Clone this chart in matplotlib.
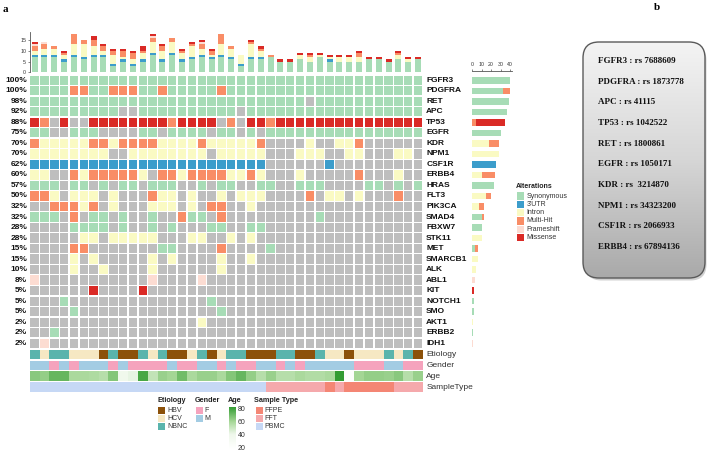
import matplotlib
matplotlib.use('Agg')
import matplotlib.pyplot as plt
import numpy as np
import matplotlib.transforms as mtrans
from matplotlib.patches import FancyBboxPatch, Rectangle
from matplotlib.colors import LinearSegmentedColormap, Normalize
from matplotlib.colorbar import ColorbarBase

plt.rcParams['font.family'] = ['Liberation Sans', 'DejaVu Sans']

# ---------------- data ----------------
genes = ['FGFR3', 'PDGFRA', 'RET', 'APC', 'TP53', 'EGFR', 'KDR', 'NPM1', 'CSF1R',
         'ERBB4', 'HRAS', 'FLT3', 'PIK3CA', 'SMAD4', 'FBXW7', 'STK11', 'MET',
         'SMARCB1', 'ALK', 'ABL1', 'KIT', 'NOTCH1', 'SMO', 'AKT1', 'ERBB2', 'IDH1']
pct_labels = ['100%', '100%', '98%', '92%', '88%', '75%', '70%', '70%', '62%', '60%',
              '57%', '50%', '32%', '32%', '28%', '28%', '15%', '15%', '10%', '8%',
              '5%', '5%', '5%', '2%', '2%', '2%']
# S=Synonymous U=3'UTR I=Intron M=Multi-Hit F=Frameshift X=Missense .=none
mutation_rows = [
    "SSSSSSSSSS" "SSSSSSSSSS" "SSSSSSSSSS" "SSSSSSSSSS",  # FGFR3
    "SSSSMMSSMM" "MSSMSSSSSM" "SSSSSSSSSS" "SSSSSSSSSS",  # PDGFRA
    "SSSSSSSSSS" "SSSSSSSSSS" "SSSSSSSS.S" "SSSSSSSSSS",  # RET
    "SSSSSSSSS." ".SSSSSSSSS" "S.SSSSSSSS" "SSSSSSSSSS",  # APC
    "XM.X..XXXX" "XXXXMXXXX." "M.XXMXXXXX" "XXXXXXXXXX",  # TP53
    "SS..SSS..." ".SS.SSSS.S" "S.S.SSSSSS" "SSSSSSSSSS",  # EGFR
    "MIIIIIMMIM" "MMMIIIIMII" "IIIM....I." ".IIM......",  # KDR
    "IIIIIIII.." "IIIIIIII.I" "IIII...III" "..II...II.",  # NPM1
    "UUUUUUUUUU" "UUUUUUUUUU" "UUUU......" "U.........",  # CSF1R
    "II..MIMMMM" "MI.MMIMMMM" "IIMI...I.." "...M...I..",  # ERBB4
    "SSS.SS.S.S" "S.SSS..S.S" "S..SS..SSS" "....SS.S.S",  # HRAS
    "MMI.III.I." "..MII.I..I" ".III....M." "II.I...M..",  # FLT3
    "..MMMIM.I." "..III.I.MM" "..I......." "..........",  # PIK3CA
    "SSS.M.SS.S" "..S..MSS.M" ".........S" "..........",  # SMAD4
    "....SSSS.S" "..S.S...SS" "..SS......" "..........",  # FBXW7
    ".....II.II" "III...II.." "I.I......." "..........",  # STK11
    "....MM...." "...SS....M" "....S....." "..........",  # MET
    "....I.I..." "..I.I....I" "..I......." "..........",  # SMARCB1
    "....I..I.." "..I......I" ".........." "..........",  # ALK
    "F........." "..F....F.." ".........." "..........",  # ABL1
    "......X..." ".X........" ".........." "..........",  # KIT
    "...S......" "........S." ".........." "..........",  # NOTCH1
    "....S....." ".........S" ".........." "..........",  # SMO
    ".........." ".......I.." ".........." "..........",  # AKT1
    "..S......." ".........." ".........." "..........",  # ERBB2
    ".F........" ".........." ".........." "..........",  # IDH1
]
alt_codes = ['S', 'U', 'I', 'M', 'F', 'X']
alt_names = ['Synonymous', "3'UTR", 'Intron', 'Multi-Hit', 'Frameshift', 'Missense']

etiology = ['NBNC', 'HCV', 'NBNC', 'NBNC', 'HCV', 'HCV', 'HCV', 'HBV', 'NBNC', 'HBV',
            'HBV', 'NBNC', 'HCV', 'NBNC', 'HBV', 'HBV', 'HCV', 'NBNC', 'HBV', 'HCV',
            'NBNC', 'NBNC', 'HBV', 'HBV', 'HBV', 'NBNC', 'NBNC', 'HBV', 'HBV', 'NBNC',
            'HCV', 'HCV', 'HBV', 'HCV', 'HCV', 'HCV', 'NBNC', 'HCV', 'NBNC', 'HBV']
gender = ['M', 'M', 'F', 'M', 'F', 'M', 'M', 'M', 'F', 'M',
          'F', 'F', 'F', 'F', 'M', 'F', 'F', 'M', 'M', 'F',
          'M', 'F', 'F', 'M', 'M', 'F', 'M', 'F', 'M', 'M',
          'M', 'M', 'M', 'F', 'F', 'F', 'M', 'M', 'F', 'F']
age = [65, 63, 72, 72, 58, 58, 57, 55, 66, 38,
       42, 78, 52, 62, 60, 70, 58, 62, 62, 58,
       66, 72, 63, 55, 62, 55, 55, 58, 56, 56,
       58, 82, 20, 60, 63, 63, 62, 65, 55, 62]
sample_type = ['PBMC'] * 24 + ['FFT'] * 6 + ['FFPE', 'FFT'] + ['FFPE'] * 5 + ['FFT'] * 3

snp_lines = ['FGFR3 : rs 7688609', 'PDGFRA : rs 1873778', 'APC : rs 41115',
             'TP53 : rs 1042522', 'RET : rs 1800861', 'EGFR : rs 1050171',
             'KDR : rs  3214870', 'NPM1 : rs 34323200', 'CSF1R : rs 2066933',
             'ERBB4 : rs 67894136']

# ---------------- styles ----------------
alt_colors = {'S': '#A7DCB6', 'U': '#3C9DCB', 'I': '#FAFAC3', 'M': '#F98D66',
              'F': '#FCDCD2', 'X': '#DA2A26', '.': '#BEBEBE'}
etio_colors = {'HBV': '#8C510A', 'HCV': '#F6E8C3', 'NBNC': '#5AB4AC'}
gender_colors = {'F': '#F5A3BD', 'M': '#A3CCE3'}
sample_colors = {'FFPE': '#F48674', 'FFT': '#F5A9AC', 'PBMC': '#C6D8F5'}
age_cmap = LinearSegmentedColormap.from_list(
    'age', [(0.0, '#FFFFFF'), (0.35, '#EEF7EA'), (0.65, '#A4D695'), (1.0, '#2F9A2F')])
age_norm = Normalize(17, 83)

W, H = 708, 453
fig = plt.figure(figsize=(W / 100, H / 100), dpi=100)


def add_ax(x0, y0, x1, y1):
    return fig.add_axes([x0 / W, 1 - y1 / H, (x1 - x0) / W, (y1 - y0) / H])


ncol = len(mutation_rows[0])
ngene = len(genes)
mat = np.array([list(r) for r in mutation_rows])
xs = np.arange(ncol)
ys = np.arange(ngene)
LBL = dict(fontsize=6.0, fontweight='bold', color='#111111')

# ---------------- main matrix ----------------
ax = add_ax(29.7, 75.0, 423.0, 348.5)
for r in range(ngene):
    ax.bar(xs, 0.88, bottom=r - 0.44, width=0.86,
           color=[alt_colors[c] for c in mat[r]], linewidth=0)
ax.set_xlim(-0.5, ncol - 0.5)
ax.set_ylim(ngene - 0.5, -0.5)
ax.axis('off')
tr = mtrans.blended_transform_factory(ax.transAxes, ax.transData)
for r in range(ngene):
    ax.text(1.008, r, genes[r], transform=tr, ha='left', va='center', **LBL)
    ax.text(-0.006, r, pct_labels[r], transform=tr, ha='right', va='center', **LBL)

# ---------------- top bar ----------------
axt = add_ax(29.7, 32.0, 423.0, 72.3)
bottom = np.zeros(ncol)
for c in alt_codes:
    v = (mat == c).sum(axis=0)
    axt.bar(xs, v, bottom=bottom, width=0.6, color=alt_colors[c], linewidth=0)
    bottom += v
axt.set_xlim(-0.5, ncol - 0.5)
axt.set_ylim(0, 18.7)
axt.set_yticks([0, 5, 10, 15])
for s in ['top', 'right', 'bottom']:
    axt.spines[s].set_visible(False)
axt.spines['left'].set_color('#555555')
axt.spines['left'].set_linewidth(0.6)
axt.set_xticks([])
axt.tick_params(axis='y', labelsize=3.8, length=1.5, width=0.5, pad=1,
                colors='#555555', labelcolor='#333333')

# ---------------- right bar ----------------
top_extra = (75.0 - 70.7) / 10.52
axr = add_ax(472.0, 70.7, 512.0, 348.5)
left = np.zeros(ngene)
for c in alt_codes:
    v = (mat == c).sum(axis=1)
    axr.barh(ys, v, left=left, height=0.62, color=alt_colors[c], linewidth=0)
    left += v
axr.set_xlim(0, 42.1)
axr.set_ylim(ngene - 0.5, -0.5 - top_extra)
axr.set_xticks([0, 10, 20, 30, 40])
axr.set_yticks([])
axr.xaxis.set_ticks_position('top')
for s in ['bottom', 'right', 'left']:
    axr.spines[s].set_visible(False)
axr.spines['top'].set_color('#555555')
axr.spines['top'].set_linewidth(0.6)
axr.tick_params(axis='x', labelsize=3.8, length=1.5, width=0.5, pad=1,
                colors='#555555', labelcolor='#333333')

# ---------------- annotation tracks ----------------
axa = add_ax(29.7, 349.2, 423.0, 392.5)
tracks = [
    ('Etiology', [etio_colors[e] for e in etiology]),
    ('Gender', [gender_colors[g] for g in gender]),
    ('Age', [age_cmap(age_norm(a)) for a in age]),
    ('SampleType', [sample_colors[s] for s in sample_type]),
]
for r, (name, cols) in enumerate(tracks):
    axa.bar(xs, 0.9, bottom=r - 0.45, width=1.0, color=cols, linewidth=0)
axa.set_xlim(-0.5, ncol - 0.5)
axa.set_ylim(3.5, -0.5)
axa.axis('off')
tra = mtrans.blended_transform_factory(axa.transAxes, axa.transData)
for r, (name, _) in enumerate(tracks):
    axa.text(1.008, r, name, transform=tra, ha='left', va='center',
             fontsize=6.0, color='#333333')

# ---------------- overlay (legends, panel b) ----------------
ov = fig.add_axes([0, 0, 1, 1], facecolor='none')
ov.set_xlim(0, W)
ov.set_ylim(H, 0)
ov.axis('off')

ov.text(3, 9, 'a', fontsize=8, fontweight='bold', family='Liberation Serif',
        ha='left', va='center')
ov.text(657, 8, 'b', fontsize=8, fontweight='bold', family='Liberation Serif',
        ha='center', va='center')

# Alterations legend
ov.text(515.5, 186, 'Alterations', fontsize=5.0, fontweight='bold', ha='left',
        va='center', color='#222222')
for i, (c, nm) in enumerate(zip(alt_codes, alt_names)):
    yy = 196.0 + i * 8.3
    ov.add_patch(Rectangle((517, yy - 3.6), 7, 7.2, color=alt_colors[c], lw=0))
    ov.text(526.5, yy, nm, fontsize=5.0, ha='left', va='center', color='#333333')


def cat_legend(x, title, names, cmap):
    ov.text(x - 1, 400.5, title, fontsize=5.2, fontweight='bold', ha='left',
            va='center', color='#222222')
    for i, nm in enumerate(names):
        yy = 410.5 + i * 8.2
        ov.add_patch(Rectangle((x, yy - 3.5), 7, 7.0, color=cmap[nm], lw=0))
        ov.text(x + 9, yy, nm, fontsize=5.0, ha='left', va='center', color='#333333')


cat_legend(158, 'Etiology', ['HBV', 'HCV', 'NBNC'], etio_colors)
cat_legend(195.5, 'Gender', ['F', 'M'], gender_colors)
cat_legend(255.5, 'Sample Type', ['FFPE', 'FFT', 'PBMC'], sample_colors)

ov.text(227.5, 400.5, 'Age', fontsize=5.2, fontweight='bold', ha='left',
        va='center', color='#222222')
cax = add_ax(228.5, 406.5, 235.5, 449.0)
cb = ColorbarBase(cax, cmap=age_cmap, norm=age_norm, orientation='vertical')
cb.outline.set_visible(False)
cb.set_ticks([20, 40, 60, 80])
cax.tick_params(labelsize=5.0, length=0, pad=1.5, labelcolor='#333333')

# Panel b box
shadow = FancyBboxPatch((585.5, 44.5), 121, 236, boxstyle='round,pad=0,rounding_size=16',
                        fc='#9a9a9a', ec='none', alpha=0.45)
ov.add_patch(shadow)
box = FancyBboxPatch((583, 42), 122, 236, boxstyle='round,pad=0,rounding_size=16',
                     fc='none', ec='#5a5a5a', lw=1.0)
ov.add_patch(box)
grad = np.linspace(0, 1, 256).reshape(-1, 1)
gcmap = LinearSegmentedColormap.from_list('g', ['#F4F4F4', '#D6D6D6', '#A9A9A9'])
im = ov.imshow(grad, cmap=gcmap, extent=[583, 705, 278, 42], aspect='auto',
               interpolation='bilinear', zorder=1)
im.set_clip_path(box)
box.set_zorder(2)
for i, t in enumerate(snp_lines):
    ov.text(598, 61 + i * 20.65, t, fontsize=6.5, fontweight='bold',
            family='Liberation Serif', ha='left', va='center', color='#111111', zorder=3)

ov.set_xlim(0, W)
ov.set_ylim(H, 0)

fig.savefig('out.png', dpi=100)
